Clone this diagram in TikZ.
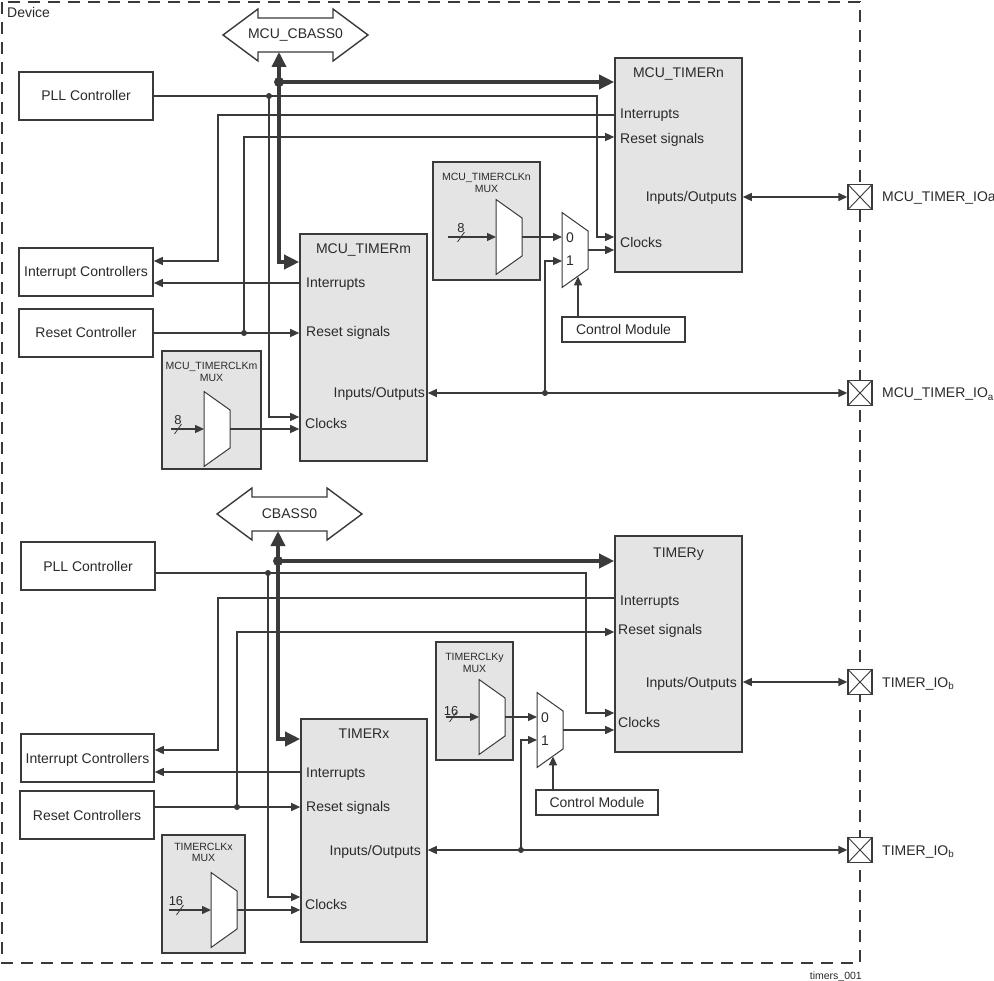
\documentclass[tikz,border=0pt]{standalone}
\usepackage{fontspec}
\setmainfont{Liberation Sans}
\usetikzlibrary{arrows.meta,calc}
\definecolor{lc}{HTML}{3A3A3A}
\definecolor{gb}{HTML}{E4E4E4}
\definecolor{tc}{HTML}{2A2A2A}
\newcommand{\myfs}[1]{\fontsize{#1}{#1}\selectfont}
\tikzset{
  ln/.style={draw=lc, line width=1.4pt},
  arr/.style={ln, -{Triangle[length=9pt,width=8pt]}},
  darr/.style={ln, {Triangle[length=9pt,width=8pt]}-{Triangle[length=9pt,width=8pt]}},
  busln/.style={draw=lc, line width=3.5pt},
  busarr/.style={busln, -{Triangle[length=15pt,width=14pt]}},
  blk/.style={draw=lc, line width=1.6pt, fill=white, text=tc, font=\myfs{14}, inner sep=0pt, text height=10pt, text depth=0pt},
  tmr/.style={draw=lc, line width=1.6pt, fill=gb, inner sep=0pt},
  muxbox/.style={draw=lc, line width=1.6pt, fill=gb, inner sep=0pt},
  trapst/.style={draw=lc, line width=1pt, fill=white},
  lbl/.style={text=tc, font=\myfs{14}, inner sep=0pt},
  mlbl/.style={text=tc, font=\myfs{10.5}, inner sep=0pt},
  nlbl/.style={text=tc, font=\myfs{13}, inner sep=0pt},
  slash/.style={draw=lc, line width=0.8pt},
  pad/.style={draw=lc, line width=1.4pt, fill=white, minimum width=24pt, minimum height=25pt, inner sep=0pt,
    path picture={\draw[lc, line width=0.9pt] (path picture bounding box.north west) -- (path picture bounding box.south east)
      (path picture bounding box.north east) -- (path picture bounding box.south west);}},
  dotn/.style={circle, fill=lc, inner sep=0pt, minimum size=6pt},
  bigdot/.style={circle, fill=lc, inner sep=0pt, minimum size=10pt},
  pics/dbus/.style={code={\draw[draw=lc, line width=1.4pt, fill=white] (-72.5,0) -- (-37.5,-26) -- (-37.5,-17) -- (37.5,-17) -- (37.5,-26) -- (72.5,0) -- (37.5,26) -- (37.5,17) -- (-37.5,17) -- (-37.5,26) -- cycle;}},
  pics/trap/.style={code={\draw[trapst] (0,-37.5) -- (26,-19) -- (26,19) -- (0,37.5) -- cycle;}}
}
\begin{document}
\begin{tikzpicture}[x=1pt,y=-1pt]
\useasboundingbox (0,0) rectangle (994,981);
\fill[white] (0,0) rectangle (994,981);
% device border
\draw[lc, line width=1.4pt, dash pattern=on 12pt off 8pt] (2,2) rectangle (860,963);
\node[lbl, anchor=base west] (dev) at (7,18) {Device};
\node[mlbl, anchor=base east] (fig) at (862,979) {timers\_001};

%================ TOP SECTION =================
\pic at (295.5,35) {dbus};
\node[lbl] (busA) at (295.5,35) {MCU\_CBASS0};
\coordinate (busAb) at (279,52);

\node[blk, minimum width=134pt, minimum height=48pt] (pllA) at (86,96) {PLL Controller};
\node[blk, minimum width=134pt, minimum height=48pt] (intA) at (86,272) {Interrupt Controllers};
\node[blk, minimum width=134pt, minimum height=48pt] (rstA) at (86,333) {Reset Controller};
\node[tmr, minimum width=127pt, minimum height=227pt] (tm) at (363.5,347.5) {};
\node[tmr, minimum width=127pt, minimum height=214pt] (tn) at (678.5,165) {};
\node[muxbox, minimum width=99pt, minimum height=118pt] (mbm) at (211.5,410) {};
\node[muxbox, minimum width=107pt, minimum height=118pt] (mbn) at (486.5,221) {};
\node[blk, minimum width=123pt, minimum height=25pt] (ctlA) at (623.5,329.5) {Control Module};

% timer labels
\node[lbl, anchor=base] (tmT) at (363.5,254) {MCU\_TIMERm};
\node[lbl, anchor=base west] (tmI) at (306,288) {Interrupts};
\node[lbl, anchor=base west] (tmR) at (306,337) {Reset signals};
\node[lbl, anchor=base east] (tmO) at (425,398) {Inputs/Outputs};
\node[lbl, anchor=base west] (tmC) at (305,429) {Clocks};
\node[lbl, anchor=base] (tnT) at (678.5,78) {MCU\_TIMERn};
\node[lbl, anchor=base west] (tnI) at (620,119) {Interrupts};
\node[lbl, anchor=base west] (tnR) at (620,144) {Reset signals};
\node[lbl, anchor=base east] (tnO) at (737,202) {Inputs/Outputs};
\node[lbl, anchor=base west] (tnC) at (620,248) {Clocks};
% mux labels
\node[mlbl, anchor=base] (mbmT) at (211.5,370) {MCU\_TIMERCLKm};
\node[mlbl, anchor=base] (mbmU) at (211.5,382) {MUX};
\node[mlbl, anchor=base] (mbnT) at (486.5,181) {MCU\_TIMERCLKn};
\node[mlbl, anchor=base] (mbnU) at (486.5,193) {MUX};

% pads
\node[pad] (padA1) at (860,197) {};
\node[pad] (padA2) at (860,393) {};
\node[lbl, anchor=base west] (padA1l) at (882,202) {MCU\_TIMER\_IOa};
\node[lbl, anchor=base west] (padA2l) at (882,398) {MCU\_TIMER\_IO\textsubscript{a}};

% muxes
\pic at (204,429) {trap};
\pic at (496,237) {trap};
\pic at (562,250) {trap};
\node[lbl, anchor=base] (m2A0) at (570,243) {0};
\node[lbl, anchor=base] (m2A1) at (570,266) {1};
\coordinate (mmS) at (171,429);
\coordinate (mmI) at (204,429);
\coordinate (mmO) at (230,429);
\coordinate (mnS) at (448,237);
\coordinate (mnI) at (496,237);
\coordinate (mnO) at (522,237);
\coordinate (m2A0i) at (562,237);
\coordinate (m2A1i) at (562,261);
\coordinate (m2AO) at (588,250);
\coordinate (m2AS) at (578,276.4);
\draw[arr] (mmS) -- (mmI);
\draw[slash] (174.5,434) -- (181.5,424);
\node[nlbl, anchor=base] (mm8) at (178,425) {8};
\draw[arr] (mmO) -- (tm.west |- mmO);
\draw[arr] (mnS) -- (mnI);
\draw[slash] (457.5,242) -- (464.5,232);
\node[nlbl, anchor=base] (mn8) at (461,233) {8};
\draw[arr] (mnO) -- (m2A0i);
\draw[arr] (m2AO) -- (tn.west |- m2AO);
\draw[arr] (ctlA.north -| m2AS) -- (m2AS);

% bus connections
\node[bigdot] (bdA) at (279,82) {};
\draw[busarr] (bdA.center) -- (busAb);
\draw[busarr] (bdA.center) -- (tn.west |- bdA.center);
\draw[busarr] (bdA.center) -- (279,262) -- (tm.west |- 0,262);

% PLL
\node[dotn] (dA1) at (269,96) {};
\draw[ln] (pllA.east |- dA1.center) -- (dA1.center);
\draw[arr] (dA1.center) -- (597,96) -- (597,237) -- (tn.west |- 0,237);
\draw[arr] (dA1.center) -- (269,417) -- (tm.west |- 0,417);

% interrupts
\draw[arr] (tn.west |- 0,115) -- (218,115) -- (218,261) -- (intA.east |- 0,261);
\draw[arr] (tm.west |- 0,283) -- (intA.east |- 0,283);

% reset
\node[dotn] (dA2) at (244,333) {};
\draw[arr] (rstA.east |- dA2.center) -- (tm.west |- dA2.center);
\draw[arr] (dA2.center) -- (244,137) -- (tn.west |- 0,137);

% IO
\node[dotn] (dA3) at (545,393) {};
\draw[darr] (tm.east |- dA3.center) -- (padA2.west);
\draw[arr] (dA3.center) -- (545,261) -- (m2A1i);
\draw[darr] (tn.east |- padA1.west) -- (padA1.west);

%================ BOTTOM SECTION =================
\pic at (289.5,514) {dbus};
\node[lbl] (busB) at (289.5,514) {CBASS0};
\coordinate (busBb) at (278,531);

\node[blk, minimum width=134pt, minimum height=48pt] (pllB) at (88,566) {PLL Controller};
\node[blk, minimum width=133pt, minimum height=48pt] (intB) at (87.5,758) {Interrupt Controllers};
\node[blk, minimum width=134pt, minimum height=48pt] (rstB) at (87,815) {Reset Controllers};
\node[tmr, minimum width=126pt, minimum height=223pt] (tx) at (364,830.5) {};
\node[tmr, minimum width=127pt, minimum height=216pt] (ty) at (678.5,644) {};
\node[muxbox, minimum width=83pt, minimum height=118pt] (mbx) at (203.5,894) {};
\node[muxbox, minimum width=77pt, minimum height=118pt] (mby) at (474.5,701) {};
\node[blk, minimum width=122pt, minimum height=25pt] (ctlB) at (597,802.5) {Control Module};

\node[lbl, anchor=base] (txT) at (364,738) {TIMERx};
\node[lbl, anchor=base west] (txI) at (306,777) {Interrupts};
\node[lbl, anchor=base west] (txR) at (306,811) {Reset signals};
\node[lbl, anchor=base east] (txO) at (421,855) {Inputs/Outputs};
\node[lbl, anchor=base west] (txC) at (305,909) {Clocks};
\node[lbl, anchor=base] (tyT) at (678.5,558) {TIMERy};
\node[lbl, anchor=base west] (tyI) at (620,605) {Interrupts};
\node[lbl, anchor=base west] (tyR) at (618,634) {Reset signals};
\node[lbl, anchor=base east] (tyO) at (737,687) {Inputs/Outputs};
\node[lbl, anchor=base west] (tyC) at (618,727) {Clocks};
\node[mlbl, anchor=base] (mbxT) at (203.5,850) {TIMERCLKx};
\node[mlbl, anchor=base] (mbxU) at (203.5,861) {MUX};
\node[mlbl, anchor=base] (mbyT) at (474.5,660) {TIMERCLKy};
\node[mlbl, anchor=base] (mbyU) at (474.5,672) {MUX};

\node[pad] (padB1) at (860,682) {};
\node[pad] (padB2) at (860,850) {};
\node[lbl, anchor=base west] (padB1l) at (882,687) {TIMER\_IO\textsubscript{b}};
\node[lbl, anchor=base west] (padB2l) at (882,855) {TIMER\_IO\textsubscript{b}};

\pic at (211,910) {trap};
\pic at (479,717) {trap};
\pic at (537,730) {trap};
\node[lbl, anchor=base] (m2B0) at (545,722) {0};
\node[lbl, anchor=base] (m2B1) at (545,745) {1};
\coordinate (mxS) at (169,910);
\coordinate (mxI) at (211,910);
\coordinate (mxO) at (237,910);
\coordinate (myS) at (446,717);
\coordinate (myI) at (479,717);
\coordinate (myO) at (505,717);
\coordinate (m2B0i) at (537,717);
\coordinate (m2B1i) at (537,740);
\coordinate (m2BO) at (563,730);
\coordinate (m2BS) at (553,756.4);
\draw[arr] (mxS) -- (mxI);
\draw[slash] (176.5,915) -- (183.5,905);
\node[nlbl, anchor=base] (mx16) at (176,905) {16};
\draw[arr] (mxO) -- (tx.west |- mxO);
\draw[arr] (myS) -- (myI);
\draw[slash] (449.5,722) -- (456.5,712);
\node[nlbl, anchor=base] (my16) at (451,715) {16};
\draw[arr] (myO) -- (m2B0i);
\draw[arr] (m2BO) -- (ty.west |- m2BO);
\draw[arr] (ctlB.north -| m2BS) -- (m2BS);

\node[bigdot] (bdB) at (278,561) {};
\draw[busarr] (bdB.center) -- (busBb);
\draw[busarr] (bdB.center) -- (ty.west |- bdB.center);
\draw[busarr] (bdB.center) -- (278,739) -- (tx.west |- 0,739);

\node[dotn] (dB1) at (268,573) {};
\draw[ln] (pllB.east |- dB1.center) -- (dB1.center);
\draw[arr] (dB1.center) -- (586,573) -- (586,713) -- (ty.west |- 0,713);
\draw[arr] (dB1.center) -- (268,897) -- (tx.west |- 0,897);

\draw[arr] (ty.west |- 0,598) -- (218,598) -- (218,750) -- (intB.east |- 0,750);
\draw[arr] (tx.west |- 0,772) -- (intB.east |- 0,772);

\node[dotn] (dB2) at (237,807) {};
\draw[arr] (rstB.east |- dB2.center) -- (tx.west |- dB2.center);
\draw[arr] (dB2.center) -- (237,632) -- (ty.west |- 0,632);

\node[dotn] (dB3) at (521,850) {};
\draw[darr] (tx.east |- dB3.center) -- (padB2.west);
\draw[arr] (dB3.center) -- (521,740) -- (m2B1i);
\draw[darr] (ty.east |- padB1.west) -- (padB1.west);
\end{tikzpicture}
\end{document}
